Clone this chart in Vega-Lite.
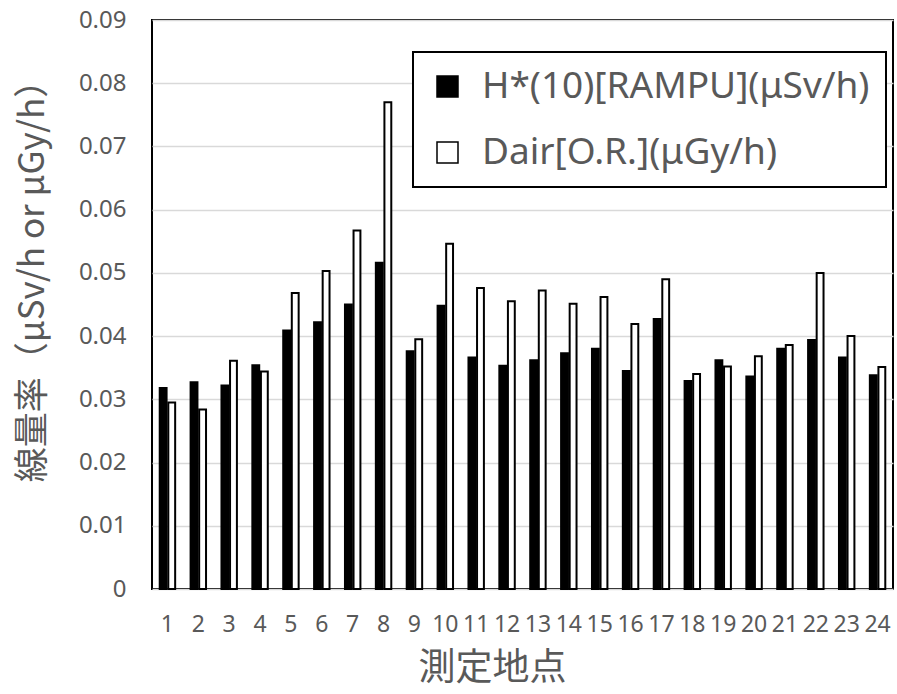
{
  "$schema": "https://vega.github.io/schema/vega-lite/v6.json",
  "width": 741,
  "height": 569,
  "autosize": {"type": "none"},
  "padding": {"left": 152, "top": 20, "right": 4, "bottom": 105},
  "background": "white",
  "config": {
    "view": {"stroke": "black", "strokeWidth": 2},
    "font": "Noto Sans",
    "legend": {"strokeColor": "black", "strokeWidth": 2}
  },
  "data": {
    "values": [
      {"point": 1, "series": "a", "value": 0.0318},
      {"point": 1, "series": "b", "value": 0.0295},
      {"point": 2, "series": "a", "value": 0.0327},
      {"point": 2, "series": "b", "value": 0.0284},
      {"point": 3, "series": "a", "value": 0.0322},
      {"point": 3, "series": "b", "value": 0.0361},
      {"point": 4, "series": "a", "value": 0.0354},
      {"point": 4, "series": "b", "value": 0.0344},
      {"point": 5, "series": "a", "value": 0.0409},
      {"point": 5, "series": "b", "value": 0.0468},
      {"point": 6, "series": "a", "value": 0.0422},
      {"point": 6, "series": "b", "value": 0.0503},
      {"point": 7, "series": "a", "value": 0.0450},
      {"point": 7, "series": "b", "value": 0.0567},
      {"point": 8, "series": "a", "value": 0.0516},
      {"point": 8, "series": "b", "value": 0.0770},
      {"point": 9, "series": "a", "value": 0.0376},
      {"point": 9, "series": "b", "value": 0.0395},
      {"point": 10, "series": "a", "value": 0.0448},
      {"point": 10, "series": "b", "value": 0.0546},
      {"point": 11, "series": "a", "value": 0.0366},
      {"point": 11, "series": "b", "value": 0.0476},
      {"point": 12, "series": "a", "value": 0.0353},
      {"point": 12, "series": "b", "value": 0.0455},
      {"point": 13, "series": "a", "value": 0.0362},
      {"point": 13, "series": "b", "value": 0.0472},
      {"point": 14, "series": "a", "value": 0.0373},
      {"point": 14, "series": "b", "value": 0.0451},
      {"point": 15, "series": "a", "value": 0.0380},
      {"point": 15, "series": "b", "value": 0.0462},
      {"point": 16, "series": "a", "value": 0.0345},
      {"point": 16, "series": "b", "value": 0.0419},
      {"point": 17, "series": "a", "value": 0.0427},
      {"point": 17, "series": "b", "value": 0.0490},
      {"point": 18, "series": "a", "value": 0.0329},
      {"point": 18, "series": "b", "value": 0.0340},
      {"point": 19, "series": "a", "value": 0.0362},
      {"point": 19, "series": "b", "value": 0.0352},
      {"point": 20, "series": "a", "value": 0.0336},
      {"point": 20, "series": "b", "value": 0.0368},
      {"point": 21, "series": "a", "value": 0.0380},
      {"point": 21, "series": "b", "value": 0.0386},
      {"point": 22, "series": "a", "value": 0.0394},
      {"point": 22, "series": "b", "value": 0.0500},
      {"point": 23, "series": "a", "value": 0.0366},
      {"point": 23, "series": "b", "value": 0.0400},
      {"point": 24, "series": "a", "value": 0.0338},
      {"point": 24, "series": "b", "value": 0.0351}
    ]
  },
  "mark": {"type": "bar", "stroke": "black", "strokeWidth": 2},
  "encoding": {
    "x": {
      "field": "point",
      "type": "ordinal",
      "scale": {"paddingInner": 0.5, "paddingOuter": 0.25},
      "axis": {
        "title": "測定地点",
        "titleFont": "Noto Sans CJK JP",
        "titleFontSize": 37,
        "titleFontWeight": "normal",
        "titleColor": "#595959",
        "titlePadding": 14,
        "titleX": 340,
        "titleAlign": "center",
        "labelAngle": 0,
        "labelFontSize": 23,
        "labelColor": "#595959",
        "labelPadding": 24,
        "ticks": false,
        "domain": false
      }
    },
    "xOffset": {
      "field": "series",
      "type": "nominal",
      "scale": {"paddingInner": 0.2}
    },
    "y": {
      "field": "value",
      "type": "quantitative",
      "scale": {"domain": [0, 0.09], "nice": false},
      "axis": {
        "values": [0, 0.01, 0.02, 0.03, 0.04, 0.05, 0.06, 0.07, 0.08, 0.09],
        "format": ".2~f",
        "title": "線量率（μSv/h or μGy/h）",
        "titleFont": "Noto Sans CJK JP",
        "titleFontSize": 35,
        "titleFontWeight": "normal",
        "titleColor": "#595959",
        "titleX": -120,
        "titleY": 252,
        "titleAlign": "center",
        "titleBaseline": "middle",
        "labelFontSize": 24,
        "labelColor": "#595959",
        "labelPadding": 26,
        "ticks": false,
        "domain": false,
        "grid": true,
        "gridColor": "#d9d9d9",
        "gridWidth": 1.5
      }
    },
    "color": {
      "field": "series",
      "type": "nominal",
      "scale": {"domain": ["a", "b"], "range": ["black", "white"]},
      "legend": {
        "title": null,
        "orient": "none",
        "legendX": 261,
        "legendY": 32,
        "fillColor": "white",
        "padding": 16,
        "labelFontSize": 37,
        "labelColor": "#595959",
        "labelLimit": 600,
        "labelExpr": "datum.value == 'a' ? 'H*(10)[RAMPU](μSv/h)' : 'Dair[O.R.](μGy/h)'",
        "symbolType": "square",
        "symbolSize": 441,
        "symbolStrokeColor": "black",
        "symbolStrokeWidth": 1.5,
        "rowPadding": 28,
        "labelOffset": 16
      }
    }
  }
}
